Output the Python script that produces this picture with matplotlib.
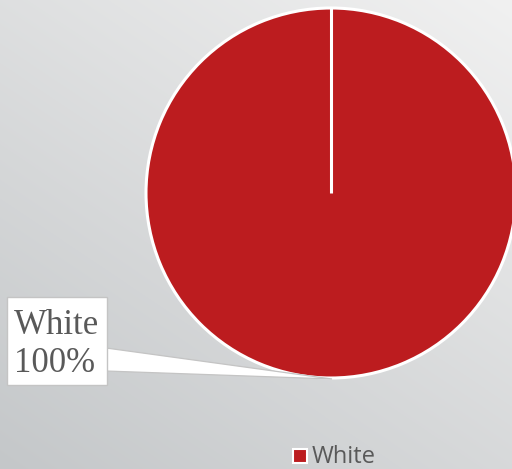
import numpy as np
import matplotlib
matplotlib.use("Agg")
import matplotlib.pyplot as plt
from matplotlib.patches import Polygon, Rectangle

categories = ["White"]
values = [100]
colors = ["#BC1C1F"]

W, H = 512, 469
fig = plt.figure(figsize=(W / 100, H / 100), dpi=100)

# background gradient
bg = fig.add_axes([0, 0, 1, 1])
yy, xx = np.mgrid[0:H, 0:W]
t = ((W - xx) / W * 0.55 + yy / H * 0.75) / 1.3
light = np.array([0xF1, 0xF1, 0xF1]) / 255
dark = np.array([0xC4, 0xC7, 0xC9]) / 255
img = light[None, None, :] * (1 - t[..., None]) + dark[None, None, :] * t[..., None]
bg.imshow(img, extent=[0, W, H, 0], aspect="auto")
bg.set_axis_off()

ax = fig.add_axes([0, 0, 1, 1])
ax.set_xlim(0, W)
ax.set_ylim(H, 0)
ax.set_aspect("equal")
ax.set_axis_off()
ax.patch.set_alpha(0)

cx, cy, r = 331, 193, 185
wedges, _ = ax.pie(values, colors=colors, center=(cx, cy), radius=r,
                   startangle=90, counterclock=False,
                   wedgeprops=dict(edgecolor="white", linewidth=2.2))
ax.set_xlim(0, W)
ax.set_ylim(H, 0)
ax.plot([cx, cx], [cy, cy - r], color="white", lw=2.2, solid_capstyle="butt")

# callout leader
leader = Polygon([(106, 348), (332, 379), (106, 371)], closed=True,
                 facecolor="white", edgecolor="#C4C4C4", lw=0.9, zorder=3)
ax.add_patch(leader)
box = Rectangle((7, 297), 100, 88, facecolor="white", edgecolor="#C4C4C4",
                lw=1.0, zorder=4)
ax.add_patch(box)
ax.text(14, 345, f"{categories[0]}\n{values[0]}%", ha="left", va="center",
        fontsize=25, family="Liberation Serif", color="#595959",
        linespacing=1.2, zorder=5)

# legend
ax.add_patch(Rectangle((293, 449), 14, 14, facecolor=colors[0],
                       edgecolor="white", lw=1.5, zorder=5))
ax.text(312, 457, categories[0], ha="left", va="center", fontsize=17,
        family="Open Sans", color="#595959", zorder=5)

fig.savefig("out.png", dpi=100)
